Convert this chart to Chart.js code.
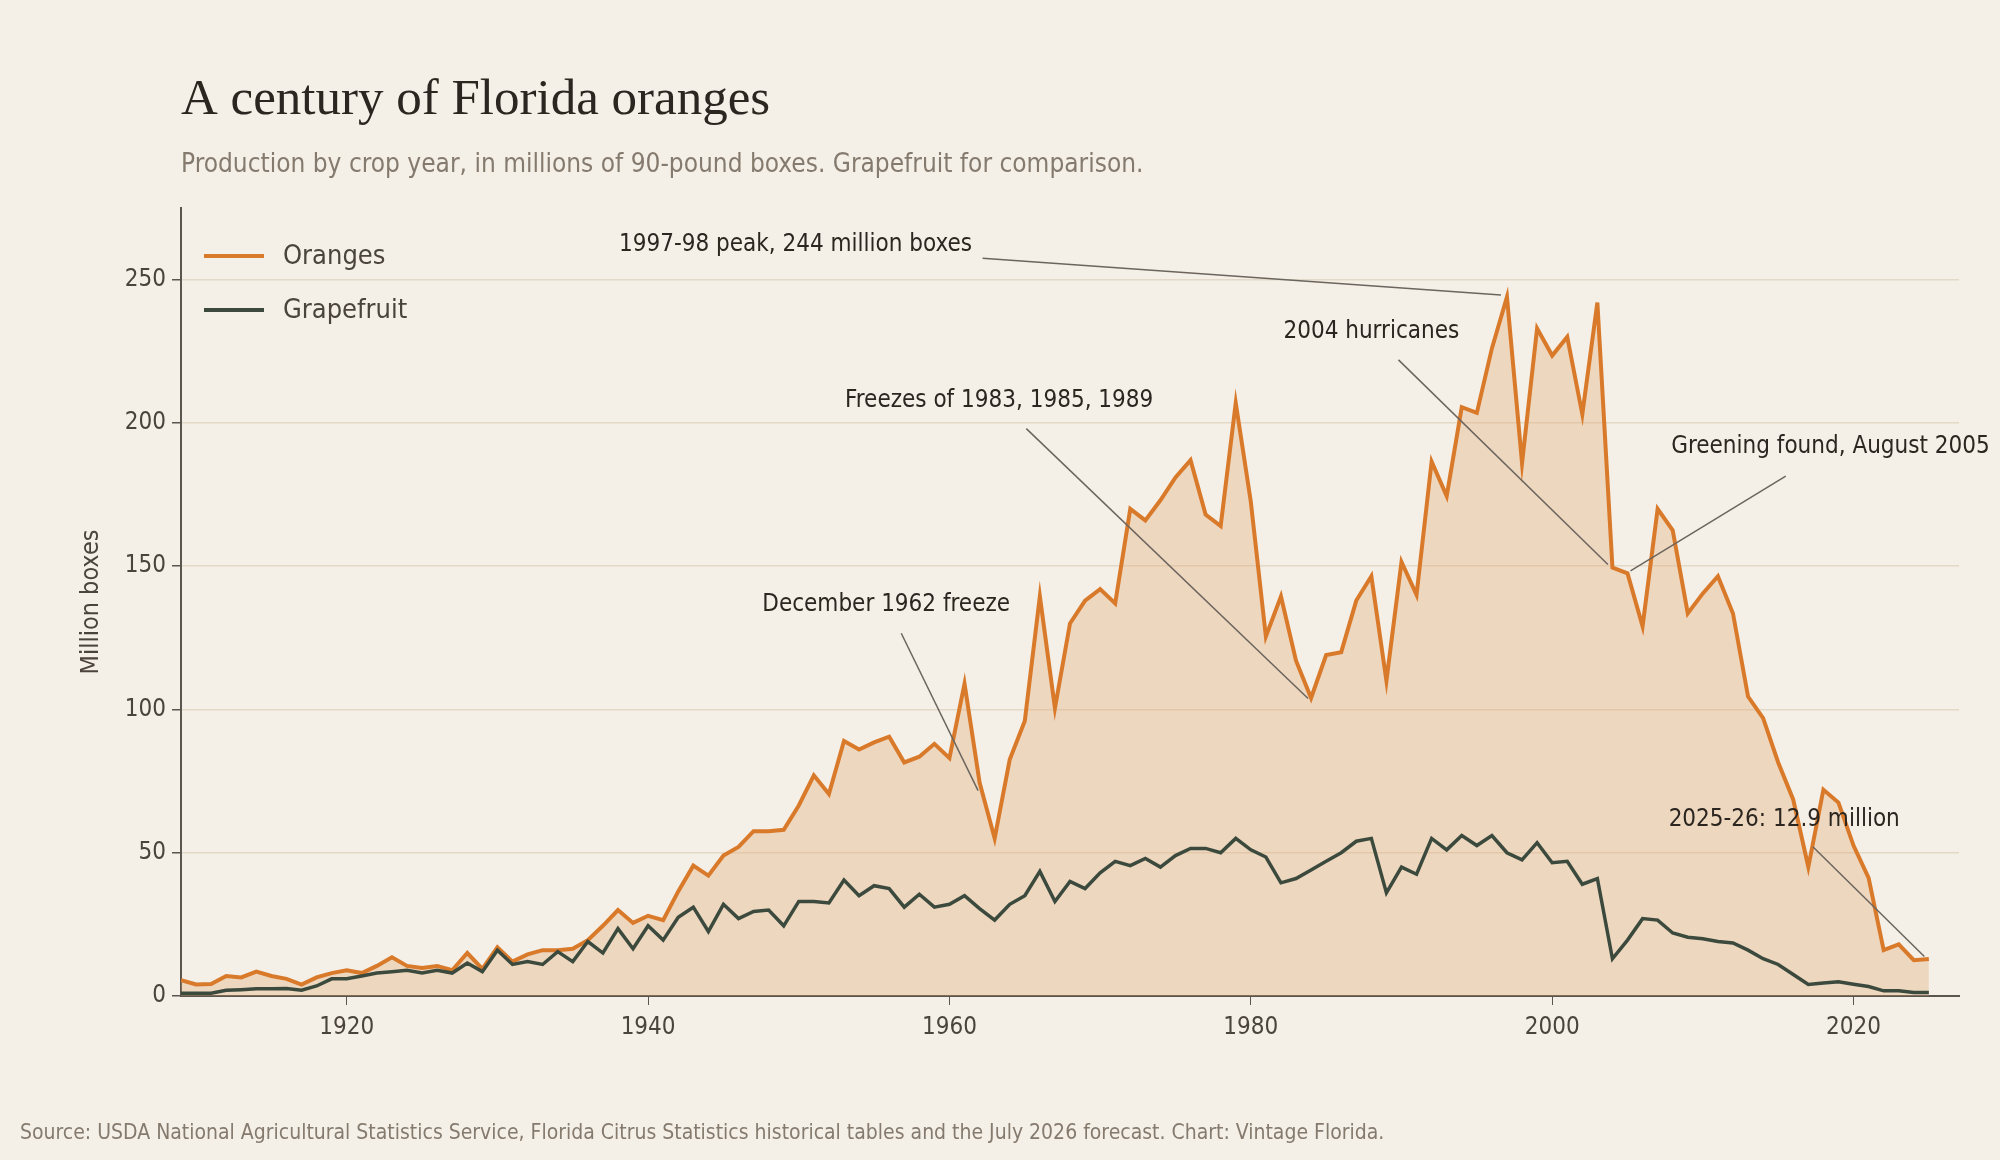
<!DOCTYPE html>
<html><head><meta charset="utf-8">
<script src="https://cdn.jsdelivr.net/npm/chart.js@4.4.1/dist/chart.umd.min.js"></script>
<style>html,body{margin:0;padding:0;background:#f4efe7}#wrap{width:2000px;height:1160px;position:relative}</style>
</head><body><div id="wrap"><canvas id="c" width="2000" height="1160"></canvas></div>
<script>
const startYear = 1909;
const oranges = [5.5,4,4.2,7,6.5,8.5,7,6,4,6.5,8,9,8,10.5,13.5,10.5,9.8,10.5,9,15,9.5,17,12,14.5,16,16,16.5,19.5,24.5,30,25.5,28,26.5,36.5,45.5,42,49,52,57.5,57.5,58,66.5,77,70.5,89,86,88.5,90.5,81.5,83.5,88,83,109,74.5,55,82.5,96,139.5,100.5,130,138,142,137,170,166,173,181,187,168,164,207,172.5,125.5,139.5,117,104,119,120,138,146.5,110,151.5,140,186.5,174.5,205.5,203.5,226,244,186,233,223.5,230,203,242,149.5,147.5,129,170,162.5,133.5,140.5,146.5,133.5,104.5,97,81.5,68.5,45,72,67.5,52.5,41.2,16,18,12.5,12.9];
const grapefruit = [1,1,1,2,2.2,2.5,2.5,2.6,2,3.5,6,6,7,8,8.5,9,8,9,8,11.5,8.5,16,11,12,11,15.5,12,19,15,23.5,16.5,24.5,19.5,27.5,31,22.5,32,27,29.5,30,24.5,33,33,32.5,40.5,35,38.5,37.5,31,35.5,31,32,35,30.5,26.5,32,35,43.5,33,40,37.5,43,47,45.5,48,45,49,51.5,51.5,50,55,51,48.5,39.5,41,44,47,50,54,55,36,45,42.5,55,51,56,52.5,56,50,47.5,53.5,46.5,47,39,41,13,19.5,27,26.5,22,20.5,20,19,18.5,16,13,11,7.5,4,4.5,5,4.1,3.3,1.8,1.8,1.2,1.2];
const xTicks = [1920,1940,1960,1980,2000,2020];
const yTicks = [0,50,100,150,200,250];
const annotations = [
 {text:"1997-98 peak, 244 million boxes", tx:1961.5, ty:262, align:"right", from:[1962.2,257.5], to:[1996.6,244.6]},
 {text:"2004 hurricanes", tx:1988, ty:231.7, align:"center", from:[1989.8,222], to:[2003.7,150.6]},
 {text:"Freezes of 1983, 1985, 1989", tx:1963.3, ty:207.7, align:"center", from:[1965.1,198], to:[1983.8,103.8]},
 {text:"Greening found, August 2005", tx:2007.9, ty:191.6, align:"left", from:[2015.5,181.4], to:[2005.2,148.4]},
 {text:"December 1962 freeze", tx:1955.8, ty:136.4, align:"center", from:[1956.8,126.6], to:[1961.9,71.7]},
 {text:"2025-26: 12.9 million", tx:2015.4, ty:61.5, align:"center", from:[2017.3,52.1], to:[2024.7,13.8]}
];
const COND = '"Liberation Sans Narrow","DejaVu Sans Condensed","Roboto",sans-serif';
const ORANGE = '#d97a2b', GREEN = '#3c4a3e';
const pts = arr => arr.map((v,i)=>({x:startYear+i,y:v}));

const deco = {
 id:'deco',
 beforeDraw(ch){const c=ch.ctx;c.save();c.fillStyle='#f4efe7';c.fillRect(0,0,ch.width,ch.height);c.restore();},
 afterDraw(ch){
  const c=ch.ctx, x=ch.scales.x, y=ch.scales.y;
  c.save();
  c.fillStyle='#2b2620';c.font='51px "Liberation Serif","DejaVu Serif",serif';c.textBaseline='alphabetic';
  c.fillText('A century of Florida oranges',181,114);
  c.fillStyle='#857a6e';c.font='26px '+COND;
  c.fillText('Production by crop year, in millions of 90-pound boxes. Grapefruit for comparison.',181,172);
  c.font='21px '+COND;c.fillText('Source: USDA National Agricultural Statistics Service, Florida Citrus Statistics historical tables and the July 2026 forecast. Chart: Vintage Florida.',20,1139);
  c.save();c.translate(89,602);c.rotate(-Math.PI/2);c.textAlign='center';c.fillStyle='#4a443d';c.font='25px '+COND;c.fillText('Million boxes',0,9);c.restore();
  c.lineWidth=4;
  [[ORANGE,'Oranges',256],[GREEN,'Grapefruit',310]].forEach(([col,t,yy])=>{
   c.strokeStyle=col;c.beginPath();c.moveTo(204,yy);c.lineTo(264,yy);c.stroke();
   c.fillStyle='#4a443d';c.font='27px '+COND;c.textBaseline='middle';c.fillText(t,283,yy+1);
  });
  c.font='24px '+COND;c.fillStyle='#2b2620';c.textBaseline='middle';
  annotations.forEach(a=>{
   c.textAlign=a.align;c.fillText(a.text,x.getPixelForValue(a.tx),y.getPixelForValue(a.ty));
   c.strokeStyle='#6b655e';c.lineWidth=1.5;c.beginPath();
   c.moveTo(x.getPixelForValue(a.from[0]),y.getPixelForValue(a.from[1]));
   c.lineTo(x.getPixelForValue(a.to[0]),y.getPixelForValue(a.to[1]));c.stroke();
  });
  c.restore();
 }
};

new Chart(document.getElementById('c'),{
 type:'line',
 data:{datasets:[
  {label:'Oranges',data:pts(oranges),borderColor:ORANGE,borderWidth:4,backgroundColor:'rgba(224,160,100,0.3)',fill:'origin',pointRadius:0,tension:0,order:2},
  {label:'Grapefruit',data:pts(grapefruit),borderColor:GREEN,borderWidth:3.5,fill:false,pointRadius:0,tension:0,order:1}
 ]},
 options:{
  responsive:false,animation:false,devicePixelRatio:1,
  layout:{padding:{left:0,top:208,right:41,bottom:0}},
  plugins:{legend:{display:false},tooltip:{enabled:false}},
  scales:{
   x:{type:'linear',min:1909,max:2027,
     afterBuildTicks:s=>{s.ticks=xTicks.map(v=>({value:v}));},
     afterFit:s=>{s.height=164;},
     border:{color:'#5a554f',width:2},
     grid:{color:'transparent',tickColor:'#5a554f',tickLength:9,drawOnChartArea:false},
     ticks:{color:'#4a443d',font:{size:24,family:COND},padding:8,maxRotation:0,callback:v=>String(v)}},
   y:{min:0,max:275,
     afterBuildTicks:s=>{s.ticks=yTicks.map(v=>({value:v}));},
     afterFit:s=>{s.width=181;},
     border:{color:'#5a554f',width:2},
     grid:{color:'#e3d9c7',lineWidth:1.5,tickColor:'#5a554f',tickLength:9},
     ticks:{color:'#4a443d',font:{size:24,family:COND},padding:6}}
  }
 },
 plugins:[deco]
});
</script></body></html>
